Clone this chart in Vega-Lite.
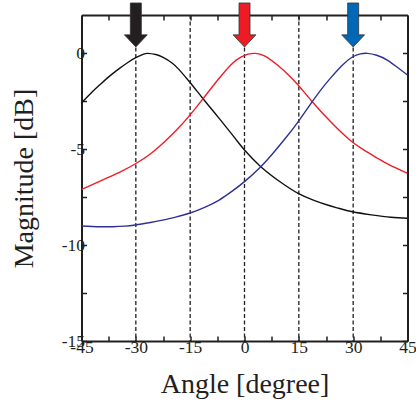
{
  "$schema": "https://vega.github.io/schema/vega-lite/v6.json",
  "width": 326,
  "height": 326,
  "autosize": {"type": "none"},
  "padding": {"left": 81.5, "top": 15, "right": 8.5, "bottom": 66},
  "background": "white",
  "config": {
    "view": {"stroke": null},
    "axis": {
      "labelFont": "Liberation Serif",
      "titleFont": "Liberation Serif",
      "labelFontSize": 17.5,
      "titleFontSize": 28,
      "titleFontWeight": "normal",
      "labelColor": "#231f20",
      "titleColor": "#231f20",
      "domainColor": "#231f20",
      "domainWidth": 2,
      "tickColor": "#231f20",
      "tickWidth": 1.5,
      "tickSize": -5,
      "grid": false,
      "labelOverlap": false,
      "labelBound": false,
      "labelFlush": false
    }
  },
  "datasets": {
    "curves": [
      {"a": -45, "m": -2.58, "s": "black"},
      {"a": -42, "m": -2.0, "s": "black"},
      {"a": -40, "m": -1.65, "s": "black"},
      {"a": -37, "m": -1.15, "s": "black"},
      {"a": -34.5, "m": -0.78, "s": "black"},
      {"a": -32, "m": -0.45, "s": "black"},
      {"a": -30, "m": -0.22, "s": "black"},
      {"a": -28, "m": -0.05, "s": "black"},
      {"a": -26.7, "m": 0, "s": "black"},
      {"a": -24.5, "m": -0.06, "s": "black"},
      {"a": -22.6, "m": -0.2, "s": "black"},
      {"a": -20, "m": -0.5, "s": "black"},
      {"a": -18, "m": -0.86, "s": "black"},
      {"a": -15.2, "m": -1.48, "s": "black"},
      {"a": -11.6, "m": -2.33, "s": "black"},
      {"a": -9, "m": -2.93, "s": "black"},
      {"a": -7, "m": -3.39, "s": "black"},
      {"a": -2.8, "m": -4.38, "s": "black"},
      {"a": 0, "m": -5.04, "s": "black"},
      {"a": 4.5, "m": -5.91, "s": "black"},
      {"a": 10, "m": -6.72, "s": "black"},
      {"a": 14.8, "m": -7.3, "s": "black"},
      {"a": 19, "m": -7.65, "s": "black"},
      {"a": 22.9, "m": -7.91, "s": "black"},
      {"a": 26, "m": -8.08, "s": "black"},
      {"a": 29.8, "m": -8.26, "s": "black"},
      {"a": 35, "m": -8.42, "s": "black"},
      {"a": 40.4, "m": -8.55, "s": "black"},
      {"a": 45, "m": -8.6, "s": "black"},
      {"a": -45, "m": -7.1, "s": "red"},
      {"a": -42, "m": -6.85, "s": "red"},
      {"a": -38.2, "m": -6.52, "s": "red"},
      {"a": -34, "m": -6.15, "s": "red"},
      {"a": -30.2, "m": -5.77, "s": "red"},
      {"a": -26, "m": -5.25, "s": "red"},
      {"a": -22, "m": -4.6, "s": "red"},
      {"a": -18.5, "m": -3.95, "s": "red"},
      {"a": -15.2, "m": -3.25, "s": "red"},
      {"a": -11.6, "m": -2.4, "s": "red"},
      {"a": -7, "m": -1.3, "s": "red"},
      {"a": -3.5, "m": -0.55, "s": "red"},
      {"a": -1, "m": -0.2, "s": "red"},
      {"a": 1, "m": -0.04, "s": "red"},
      {"a": 3, "m": 0, "s": "red"},
      {"a": 5.5, "m": -0.13, "s": "red"},
      {"a": 9.1, "m": -0.61, "s": "red"},
      {"a": 12, "m": -1.1, "s": "red"},
      {"a": 14.8, "m": -1.65, "s": "red"},
      {"a": 18.7, "m": -2.52, "s": "red"},
      {"a": 23.8, "m": -3.57, "s": "red"},
      {"a": 28.9, "m": -4.49, "s": "red"},
      {"a": 33, "m": -5.05, "s": "red"},
      {"a": 36.7, "m": -5.47, "s": "red"},
      {"a": 40, "m": -5.82, "s": "red"},
      {"a": 45, "m": -6.26, "s": "red"},
      {"a": -45, "m": -9.0, "s": "blue"},
      {"a": -40, "m": -9.04, "s": "blue"},
      {"a": -36.4, "m": -9.04, "s": "blue"},
      {"a": -33, "m": -9.01, "s": "blue"},
      {"a": -30.2, "m": -8.95, "s": "blue"},
      {"a": -26, "m": -8.82, "s": "blue"},
      {"a": -22.6, "m": -8.7, "s": "blue"},
      {"a": -19, "m": -8.54, "s": "blue"},
      {"a": -15.2, "m": -8.34, "s": "blue"},
      {"a": -11, "m": -8.03, "s": "blue"},
      {"a": -7, "m": -7.65, "s": "blue"},
      {"a": -3.5, "m": -7.2, "s": "blue"},
      {"a": 0, "m": -6.69, "s": "blue"},
      {"a": 4.5, "m": -5.91, "s": "blue"},
      {"a": 7.7, "m": -5.25, "s": "blue"},
      {"a": 10.9, "m": -4.52, "s": "blue"},
      {"a": 14.8, "m": -3.57, "s": "blue"},
      {"a": 18.7, "m": -2.52, "s": "blue"},
      {"a": 21.3, "m": -1.85, "s": "blue"},
      {"a": 23.8, "m": -1.28, "s": "blue"},
      {"a": 27, "m": -0.62, "s": "blue"},
      {"a": 29.8, "m": -0.19, "s": "blue"},
      {"a": 32, "m": -0.03, "s": "blue"},
      {"a": 33.9, "m": 0, "s": "blue"},
      {"a": 36.5, "m": -0.1, "s": "blue"},
      {"a": 39.4, "m": -0.35, "s": "blue"},
      {"a": 42, "m": -0.7, "s": "blue"},
      {"a": 45, "m": -1.13, "s": "blue"}
    ],
    "guides": [{"a": -30}, {"a": -15}, {"a": 0}, {"a": 15}, {"a": 30}],
    "arrows": [
      {"a": -30, "m": 1.48, "s": "black"},
      {"a": 0, "m": 1.48, "s": "red"},
      {"a": 30, "m": 1.48, "s": "blue"}
    ]
  },
  "layer": [
    {
      "data": {"name": "guides"},
      "mark": {"type": "rule", "color": "#231f20", "strokeWidth": 1.3, "strokeDash": [4, 2.5]},
      "encoding": {
        "x": {
          "field": "a", "type": "quantitative",
          "scale": {"domain": [-45, 45], "nice": false, "zero": false},
          "axis": {
            "orient": "bottom",
            "title": "Angle [degree]",
            "values": [-45, -37.5, -30, -22.5, -15, -7.5, 0, 7.5, 15, 22.5, 30, 37.5, 45],
            "labelExpr": "datum.value % 15 === 0 ? '' + datum.value : ''",
            "labelPadding": 2,
            "titlePadding": 15
          }
        }
      }
    },
    {
      "data": {"name": "curves"},
      "mark": {"type": "line", "strokeWidth": 1.4, "interpolate": "natural", "clip": true},
      "encoding": {
        "x": {
          "field": "a", "type": "quantitative",
          "scale": {"domain": [-45, 45], "nice": false, "zero": false},
          "axis": {
            "orient": "top", "title": null, "labels": false,
            "values": [-45, -37.5, -30, -22.5, -15, -7.5, 0, 7.5, 15, 22.5, 30, 37.5, 45]
          }
        },
        "y": {
          "field": "m", "type": "quantitative",
          "scale": {"domain": [-15, 2], "nice": false, "zero": false},
          "axis": {
            "orient": "left",
            "title": "Magnitude [dB]",
            "values": [-15, -12.5, -10, -7.5, -5, -2.5, 0],
            "labelExpr": "datum.value % 5 === 0 ? '' + datum.value : ''",
            "labelPadding": 2,
            "titlePadding": 23
          }
        },
        "color": {
          "field": "s", "type": "nominal",
          "scale": {"domain": ["black", "red", "blue"], "range": ["#111111", "#ee1c25", "#2e3192"]},
          "legend": null
        }
      }
    },
    {
      "data": {"name": "arrows"},
      "mark": {
        "type": "point", "filled": true, "opacity": 1, "size": 1936, "strokeWidth": 0.8, "stroke": "#333333",
        "shape": "M-0.25,-1 L0.25,-1 L0.25,0.45 L0.52,0.45 L0,1 L-0.52,0.45 L-0.25,0.45 Z"
      },
      "encoding": {
        "x": {"field": "a", "type": "quantitative", "scale": {"domain": [-45, 45], "nice": false, "zero": false}, "axis": null},
        "y": {
          "field": "m", "type": "quantitative",
          "scale": {"domain": [-15, 2], "nice": false, "zero": false},
          "axis": {
            "orient": "right", "title": null, "labels": false,
            "values": [-15, -12.5, -10, -7.5, -5, -2.5, 0]
          }
        },
        "fill": {
          "field": "s", "type": "nominal",
          "scale": {"domain": ["black", "red", "blue"], "range": ["#231f20", "#ed1c24", "#0068b7"]},
          "legend": null
        }
      }
    }
  ],
  "resolve": {"axis": {"x": "independent", "y": "independent"}, "scale": {"fill": "independent"}}
}
